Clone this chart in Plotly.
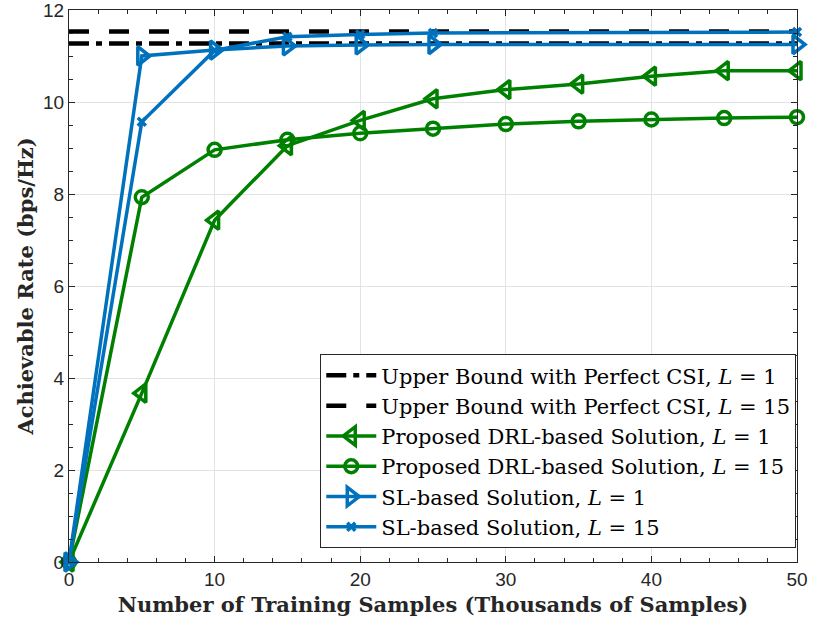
import plotly.graph_objects as go

# ---- data ----
x_all = [0, 5, 10, 15, 20, 25, 30, 35, 40, 45, 50]
x_sl = [0, 5, 10, 15, 20, 25, 50]
x_bound = [0, 50]

ub_l1 = [11.27, 11.27]
ub_l15 = [11.53, 11.53]
drl_l1 = [0, 3.67, 7.43, 9.05, 9.60, 10.07, 10.27, 10.39, 10.56, 10.68, 10.68]
drl_l15 = [0, 7.93, 8.96, 9.18, 9.32, 9.42, 9.52, 9.58, 9.62, 9.65, 9.67]
sl_l1 = [0, 11.0, 11.13, 11.22, 11.24, 11.25, 11.25]
sl_l15 = [0, 9.57, 11.12, 11.42, 11.47, 11.50, 11.52]

x_ticks = [0, 10, 20, 30, 40, 50]
y_ticks = [0, 2, 4, 6, 8, 10, 12]

names = [
    "Upper Bound with Perfect CSI, <i>L</i> = 1",
    "Upper Bound with Perfect CSI, <i>L</i> = 15",
    "Proposed DRL-based Solution, <i>L</i> = 1",
    "Proposed DRL-based Solution, <i>L</i> = 15",
    "SL-based Solution, <i>L</i> = 1",
    "SL-based Solution, <i>L</i> = 15",
]

GREEN = "#008000"
BLUE = "#0072BD"
SERIF = "DejaVu Serif, Liberation Serif, serif"

fig = go.Figure()
fig.add_trace(go.Scatter(x=x_bound, y=ub_l1, mode="lines", name=names[0],
                         line=dict(color="black", width=4.5, dash="20px,7px,6px,7px")))
fig.add_trace(go.Scatter(x=x_bound, y=ub_l15, mode="lines", name=names[1],
                         line=dict(color="black", width=4.5, dash="20px,20px")))
fig.add_trace(go.Scatter(x=x_all, y=drl_l1, mode="lines+markers", name=names[2],
                         line=dict(color=GREEN, width=3.5),
                         marker=dict(symbol="triangle-left-open", size=16,
                                     color=GREEN, line=dict(width=3.5, color=GREEN)),
                         cliponaxis=False))
fig.add_trace(go.Scatter(x=x_all, y=drl_l15, mode="lines+markers", name=names[3],
                         line=dict(color=GREEN, width=3.5),
                         marker=dict(symbol="circle-open", size=13,
                                     color=GREEN, line=dict(width=3.5, color=GREEN)),
                         cliponaxis=False))
fig.add_trace(go.Scatter(x=x_sl, y=sl_l1, mode="lines+markers", name=names[4],
                         line=dict(color=BLUE, width=3.5),
                         marker=dict(symbol="triangle-right-open", size=16,
                                     color=BLUE, line=dict(width=3.5, color=BLUE)),
                         cliponaxis=False))
fig.add_trace(go.Scatter(x=x_sl, y=sl_l15, mode="lines+markers", name=names[5],
                         line=dict(color=BLUE, width=3.5),
                         marker=dict(symbol="x-thin-open", size=8,
                                     color=BLUE, line=dict(width=3.5, color=BLUE)),
                         cliponaxis=False))

axis_common = dict(
    showline=True, linecolor="#262626", linewidth=1, mirror="allticks",
    ticks="inside", ticklen=6, tickcolor="#262626", automargin=False,
    ticklabeloverflow="allow",
    showgrid=True, gridcolor="#e3e3e3", gridwidth=1, zeroline=False,
    tickfont=dict(family="Liberation Sans, Arial, sans-serif", size=19, color="#262626"),
)

fig.update_xaxes(range=[0, 50], tickvals=x_ticks, ticktext=[str(v) for v in x_ticks],
                 minor=dict(ticks="inside", dtick=2, ticklen=4, tickcolor="#262626", showgrid=False),
                 title=dict(text="<b>Number of Training Samples (Thousands of Samples)</b>",
                            font=dict(family=SERIF, size=21, color="#262626"),
                            standoff=8),
                 **axis_common)
fig.update_yaxes(range=[0, 12], tickvals=y_ticks, ticktext=[str(v) for v in y_ticks],
                 minor=dict(ticks="inside", dtick=0.5, ticklen=4, tickcolor="#262626", showgrid=False),
                 title=dict(text="<b>Achievable Rate (bps/Hz)</b>",
                            font=dict(family=SERIF, size=21, color="#262626"),
                            standoff=3),
                 **axis_common)

fig.update_layout(
    width=814, height=630,
    margin=dict(l=69, r=17, t=10, b=68),
    plot_bgcolor="white", paper_bgcolor="white",
    legend=dict(x=0.999, y=0.025, xanchor="right", yanchor="bottom",
                bgcolor="white", bordercolor="#262626", borderwidth=1,
                font=dict(family=SERIF, size=21, color="black"),
                itemwidth=50, tracegroupgap=0),
)

fig.write_html("out.html")
